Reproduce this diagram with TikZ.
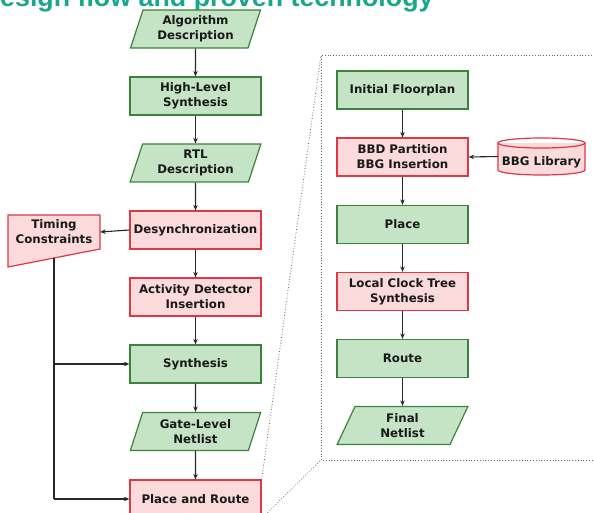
\documentclass[tikz,border=0pt]{standalone}
\usepackage{fontspec}
\setmainfont{DejaVu Sans}
\newfontfamily\titlefont{Liberation Sans}
\usetikzlibrary{shapes.geometric,arrows.meta,calc}
\definecolor{gfill}{RGB}{197,227,197}
\definecolor{gdraw}{RGB}{60,130,60}
\definecolor{rfill}{RGB}{250,218,218}
\definecolor{rdraw}{RGB}{222,55,70}
\definecolor{teal1}{RGB}{26,166,140}
\definecolor{linec}{RGB}{40,40,40}
\begin{document}
\begin{tikzpicture}[x=1pt,y=-1pt,
  lbl/.style={font=\bfseries\fontsize{11.8}{15}\selectfont, text=black!90, align=center, inner sep=0pt},
  gbox/.style={lbl, rectangle, draw=gdraw, fill=gfill, line width=1.2pt, minimum width=131pt, minimum height=38pt},
  rbox/.style={lbl, rectangle, draw=rdraw, fill=rfill, line width=1.2pt, minimum width=131pt, minimum height=38pt},
  gpar/.style={lbl, trapezium, trapezium left angle=71, trapezium right angle=109, trapezium stretches=true,
     draw=gdraw, fill=gfill, line width=1.2pt, minimum width=131pt, minimum height=38pt},
  conn/.style={draw=linec, line width=1.1pt, -{Stealth[length=5.5pt,width=4.5pt]}},
  plain/.style={draw=linec, line width=1.1pt},
  dots/.style={draw=black!60, line width=0.8pt, dotted}
]
\useasboundingbox (0,0) rectangle (594,513);
% title
\node[anchor=base west, inner sep=0pt, text=teal1, font=\titlefont\bfseries\fontsize{26.8}{30}\selectfont] (title) at (0,6.5) {esign flow and proven technology};

% left column
\node[gpar] (alg) at (195.5,29) {Algorithm\\Description};
\node[gbox] (hls) at (195.5,96) {High-Level\\Synthesis};
\node[gpar] (rtl) at (195.5,163) {RTL\\Description};
\node[rbox] (des) at (195.5,230) {Desynchronization};
\node[rbox] (act) at (195.5,297) {Activity Detector\\Insertion};
\node[gbox] (syn) at (195.5,364) {Synthesis};
\node[gpar] (gln) at (195.5,431.5) {Gate-Level\\Netlist};
\node[rbox] (par) at (195.5,499) {Place and Route};

% timing constraints (manual input shape)
\path[fill=rfill, draw=rdraw, line width=1.2pt] (8,215) -- (100,215) -- (100,249) -- (8,267) -- cycle;
\node[lbl, minimum width=92pt, minimum height=34pt] (tim) at (54,232) {Timing\\Constraints};
\coordinate (timb) at (54,258);
\coordinate (tjoin) at (54,364);
\coordinate (tend) at (54,499);

\draw[conn] (alg) -- (hls);
\draw[conn] (hls) -- (rtl);
\draw[conn] (rtl) -- (des);
\draw[conn] (des) -- (act);
\draw[conn] (act) -- (syn);
\draw[conn] (syn) -- (gln);
\draw[conn] (gln) -- (par);
\draw[conn] (des.west) -- (tim.east);
\draw[plain] (timb) -- (tend);
\draw[conn] (tjoin) -- (syn.west);
\draw[conn] (tend) -- (par.west);

% right panel
\coordinate (ptl) at (321,55);
\coordinate (pbl) at (321,460);
\coordinate (ptr) at (600,55);
\coordinate (pbr) at (600,460);
\draw[dots] (ptr) -- (ptl) -- (pbl) -- (pbr);
\draw[dots] (par.north east) -- (ptl);
\draw[dots] (par.south east) -- (pbl);

\node[gbox] (ifp) at (402.5,90) {Initial Floorplan};
\node[rbox] (bbd) at (402.5,157) {BBD Partition\\BBG Insertion};
\node[gbox] (plc) at (402.5,224.5) {Place};
\node[rbox] (lct) at (402.5,291.5) {Local Clock Tree\\Synthesis};
\node[gbox] (rte) at (402.5,358.5) {Route};
\node[gpar] (fnl) at (402.5,425.5) {Final\\Netlist};

% cylinder
\path[fill=rfill] (498,143) rectangle (585,170);
\fill[rfill] (541.5,170) ellipse [x radius=43.5, y radius=5];
\draw[rdraw, line width=1.2pt] (498,143) -- (498,170) arc[start angle=180, end angle=0, x radius=43.5, y radius=5] -- (585,143);
\draw[rdraw, line width=1.2pt] (541.5,143) ellipse [x radius=43.5, y radius=5];
\node[minimum width=87pt, minimum height=37pt, inner sep=0pt] (lib) at (541.5,156.5) {};
\node[lbl] (libt) at (541.5,162) {BBG Library};

\draw[conn] (ifp) -- (bbd);
\draw[conn] (bbd) -- (plc);
\draw[conn] (plc) -- (lct);
\draw[conn] (lct) -- (rte);
\draw[conn] (rte) -- (fnl);
\draw[conn] (lib.west) -- (bbd.east);
\end{tikzpicture}
\end{document}
